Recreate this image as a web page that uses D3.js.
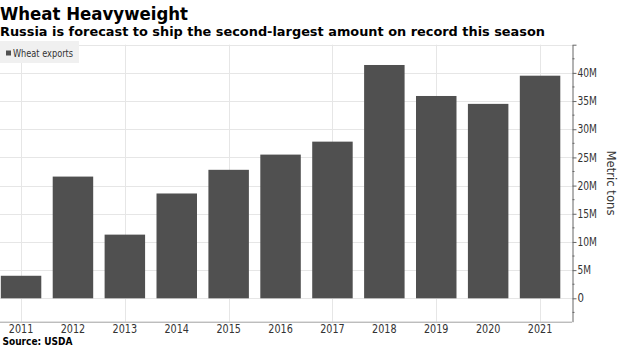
<!DOCTYPE html>
<html><head><meta charset="utf-8">
<script src="https://cdn.jsdelivr.net/npm/d3@7"></script>
<style>body{margin:0;background:#fff;overflow:hidden}</style>
</head><body>
<svg id="c" width="620" height="348"></svg>
<script>
// ---- data ----
const years = ["2011","2012","2013","2014","2015","2016","2017","2018","2019","2020","2021"];
const wheatExports = [4.0, 21.6, 11.3, 18.6, 22.8, 25.5, 27.8, 41.4, 35.9, 34.5, 39.5]; // million metric tons
const gridYears = ["2011","2013","2015","2017","2019","2021"];
const yMajorTicks = [0, 5, 10, 15, 20, 25, 30, 35, 40, 45];
const yTickLabels = ["0","5M","10M","15M","20M","25M","30M","35M","40M",""];
const yMinorTicks = [-2.5, 2.5, 7.5, 12.5, 17.5, 22.5, 27.5, 32.5, 37.5, 42.5];
const titleText = "Wheat Heavyweight";
const subtitleText = "Russia is forecast to ship the second-largest amount on record this season";
const sourceText = "Source: USDA";
const legendLabel = "Wheat exports";
const yAxisTitle = "Metric tons";

// ---- layout ----
const FONT = "'DejaVu Sans', sans-serif";
const svg = d3.select("#c");
const plotLeft = 0, plotRight = 572, plotTop = 44.7, plotBottom = 321.7;

const x = d3.scaleBand().domain(years).range([-4.9, 566]).paddingInner(0.22).paddingOuter(0.11);
const y = d3.scaleLinear().domain([-4.15, 45]).range([plotBottom, plotTop]);

function fit(sel, w) {
  sel.attr("textLength", w).attr("lengthAdjust", "spacingAndGlyphs");
}

// gridlines
const grid = svg.append("g");
grid.selectAll("line.h").data(yMajorTicks).join("line")
  .attr("x1", plotLeft).attr("x2", plotRight)
  .attr("y1", d => Math.round(y(d)) + 0.5).attr("y2", d => Math.round(y(d)) + 0.5)
  .attr("stroke", "#e6e6e6").attr("stroke-width", 1);
grid.selectAll("line.v").data(gridYears).join("line")
  .attr("x1", d => Math.round(x(d) + x.bandwidth()/2) + 0.5)
  .attr("x2", d => Math.round(x(d) + x.bandwidth()/2) + 0.5)
  .attr("y1", plotTop).attr("y2", plotBottom)
  .attr("stroke", "#e6e6e6").attr("stroke-width", 1);

// bars
svg.append("g").selectAll("rect").data(years).join("rect")
  .attr("x", d => x(d))
  .attr("width", x.bandwidth())
  .attr("y", (d, i) => y(wheatExports[i]))
  .attr("height", (d, i) => y(0) - y(wheatExports[i]))
  .attr("fill", "#505050");

// bottom frame line
svg.append("line")
  .attr("x1", plotLeft).attr("x2", plotRight)
  .attr("y1", plotBottom + 0.5).attr("y2", plotBottom + 0.5)
  .attr("stroke", "#a0a0a0");

// right axis
const yAxis = d3.axisRight(y).tickValues(yMajorTicks)
  .tickFormat((d, i) => yTickLabels[i]).tickSize(4).tickSizeOuter(0).tickPadding(1);
const ag = svg.append("g").attr("transform", `translate(${plotRight + 0.5},0)`).call(yAxis);
ag.select(".domain").attr("stroke", "#666");
ag.selectAll(".tick line").attr("stroke", "#666");
ag.selectAll(".tick text").attr("font-family", FONT).attr("font-size", 11.5).attr("fill", "#333")
  .each(function(d, i) {
    const lbl = yTickLabels[i];
    if (lbl.length) fit(d3.select(this), lbl.length === 1 ? 6.5 : (lbl.length === 2 ? 13.5 : 19.5));
  });
ag.append("g").selectAll("line").data(yMinorTicks).join("line")
  .attr("x1", 0).attr("x2", 2)
  .attr("y1", d => y(d)).attr("y2", d => y(d))
  .attr("stroke", "#666");

// y axis title
svg.append("text")
  .attr("transform", `translate(607,183) rotate(90)`)
  .attr("text-anchor", "middle")
  .attr("font-family", FONT).attr("font-size", 13).attr("fill", "#333")
  .text(yAxisTitle).call(fit, 65);

// x labels
svg.append("g").selectAll("text").data(years).join("text")
  .attr("x", d => x(d) + x.bandwidth()/2)
  .attr("y", 333)
  .attr("text-anchor", "middle")
  .attr("font-family", FONT).attr("font-size", 12).attr("fill", "#333")
  .text(d => d).call(fit, 24.5);

// legend
svg.append("rect").attr("x", 0).attr("y", 41).attr("width", 79).attr("height", 22)
  .attr("fill", "#f0f0f0");
svg.append("rect").attr("x", 6).attr("y", 50.5).attr("width", 5).attr("height", 5).attr("fill", "#505050");
svg.append("text").attr("x", 13).attr("y", 57)
  .attr("font-family", FONT).attr("font-size", 10.5).attr("fill", "#333")
  .text(legendLabel).call(fit, 60);

// titles
svg.append("text").attr("x", 0).attr("y", 19.5)
  .attr("font-family", FONT).attr("font-size", 17).attr("font-weight", "bold").attr("fill", "#000")
  .text(titleText).call(fit, 188);
svg.append("text").attr("x", 0).attr("y", 35.5)
  .attr("font-family", FONT).attr("font-size", 13).attr("font-weight", "bold").attr("fill", "#000")
  .text(subtitleText).call(fit, 545);

// source
svg.append("text").attr("x", 2.5).attr("y", 344.5)
  .attr("font-family", FONT).attr("font-size", 10.5).attr("font-weight", "bold").attr("fill", "#000")
  .text(sourceText).call(fit, 70);
</script>
</body></html>
